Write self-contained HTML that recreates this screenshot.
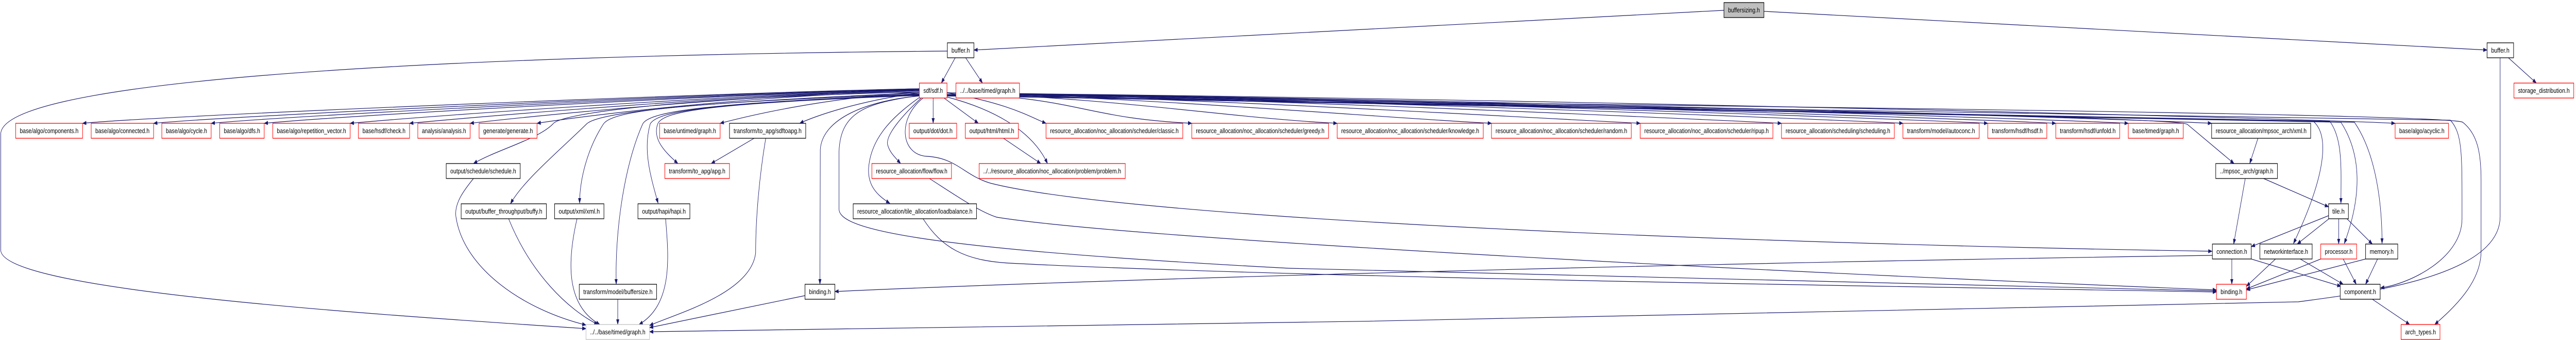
<!DOCTYPE html>
<html><head><meta charset="utf-8"><meta name="viewport" content="width=6893"><style>
html,body{margin:0;padding:0;background:#fff;width:100%;height:100%;overflow:hidden;}
svg{display:block;width:100vw;height:100vh;}
text{font-family:"Liberation Sans",sans-serif;font-size:13px;fill:#000;}
.e{fill:none;stroke:#191970;stroke-width:1.2;marker-end:url(#a);}
.b{fill:#fff;stroke:#000;stroke-width:1.3;}
.r{fill:#fff;stroke:#ff0000;stroke-width:1.3;}
.g{fill:#fff;stroke:#bfbfbf;stroke-width:1.3;}
</style></head><body>
<svg viewBox="0 0 6893 659" preserveAspectRatio="none" xmlns="http://www.w3.org/2000/svg">
<defs><marker id="a" markerUnits="userSpaceOnUse" markerWidth="11" markerHeight="8" refX="10" refY="4" orient="auto"><path d="M0,0 L11,4 L0,8 z" fill="#191970"/></marker></defs>

<path class="e" d="M4613,20 L2606,97"/>
<path class="e" d="M4720,22 L6655,97"/>
<path class="e" d="M2556,112 L2519,161"/>
<path class="e" d="M2584,112 L2629,161"/>
<path class="e" d="M2535,99 C 1500,105 2,140 2,260 L2,485 C 5,560 900,605 1568,637"/>
<path class="e" d="M6712,112 L6787,161"/>
<path class="e" d="M6690,112 L6690,420 C 6690,540 6300,570 6150,585 C 5500,605 3000,630 1738,643"/>

<path class="e" d="M2460,172 C 2000,178 471,222 221,239"/>
<path class="e" d="M2460,172 C 2000,179 661,222 411,239"/>
<path class="e" d="M2460,173 C 2000,180 815,222 565,239"/>
<path class="e" d="M2460,173 C 2000,181 957,222 707,239"/>
<path class="e" d="M2460,174 C 2000,182 1187,222 937,239"/>
<path class="e" d="M2460,174 C 2000,183 1346,222 1096,239"/>
<path class="e" d="M2460,175 C 2000,184 1458,222 1258,239"/>
<path class="e" d="M2460,176 C 2000,186 1587,222 1437,239"/>
<path class="e" d="M2460,178 C 2200,190 2000,225 1927,239"/>
<path class="e" d="M2460,180 C 2300,195 2180,225 2140,239"/>
<path class="e" d="M2534,180 C 2700,200 2760,228 2799,239"/>
<path class="e" d="M2534,180 C 2900,190 2889,228 3189,239"/>
<path class="e" d="M2534,180 C 3000,190 3278,228 3578,239"/>
<path class="e" d="M2534,180 C 3100,190 3691,228 3991,239"/>
<path class="e" d="M2534,180 C 3200,190 4089,228 4389,239"/>
<path class="e" d="M2534,180 C 3300,190 4467,228 4767,239"/>
<path class="e" d="M2534,180 C 3400,190 4792,228 5092,239"/>
<path class="e" d="M2534,180 C 3500,190 5019,228 5319,239"/>
<path class="e" d="M2534,180 C 3600,190 5201,228 5501,239"/>
<path class="e" d="M2534,180 C 3700,190 5395,228 5695,239"/>
<path class="e" d="M2534,180 C 3800,190 5618,228 5918,239"/>
<path class="e" d="M2534,180 C 4000,190 6109,228 6409,239"/>
<path class="e" d="M2497,190 L2497,239"/>
<path class="e" d="M2526,190 L2618,239"/>
<path class="e" d="M2460,178 C 1800,190 1500,220 1480,240 C 1440,270 1330,290 1267,317"/>
<path class="e" d="M2460,180 C 1800,200 1600,220 1570,240 C 1500,290 1400,350 1366,395"/>
<path class="e" d="M2460,182 C 1800,200 1640,215 1615,240 C 1570,290 1551,350 1551,394"/>
<path class="e" d="M2460,183 C 1900,200 1740,215 1720,240 C 1670,320 1645,450 1649,551"/>
<path class="e" d="M2460,184 C 1900,200 1760,215 1740,240 C 1720,290 1740,340 1761,394"/>
<path class="e" d="M2460,185 C 1900,200 1775,215 1760,240 C 1745,270 1780,295 1814,317"/>
<path class="e" d="M2460,186 C 2320,195 2200,230 2195,290 L2194,551"/>
<path class="e" d="M2462,188 C 2400,220 2335,260 2325,320 C 2318,360 2350,380 2381,394"/>
<path class="e" d="M2465,190 C 2420,220 2370,260 2375,280 C 2380,295 2395,305 2410,317"/>
<path class="e" d="M2534,188 C 2650,210 2760,250 2803,317"/>
<path class="e" d="M2460,185 C 2320,200 2245,215 2245,300 L2245,405 C 2245,440 2400,480 3450,520 C 4500,545 5500,560 5931,564"/>
<path class="e" d="M2470,190 C 2400,230 2410,300 2480,303 C 2560,306 2580,340 2650,355 C 3000,420 4500,470 5919,487"/>
<path class="e" d="M2534,183 C 4000,200 5830,225 5853,241 L5978,317"/>
<path class="e" d="M2534,184 C 4500,205 6150,225 6190,235 C 6230,260 6230,330 6137,472"/>
<path class="e" d="M2534,184 C 4500,205 6200,225 6234,235 C 6270,270 6264,330 6264,394"/>
<path class="e" d="M2534,185 C 4500,205 6240,225 6264,237 C 6320,300 6320,380 6273,472"/>
<path class="e" d="M2534,185 C 4500,205 6270,225 6300,237 C 6360,300 6374,400 6374,472"/>
<path class="e" d="M2534,186 C 4500,205 6520,220 6557,233 C 6590,260 6588,300 6588,424 C 6588,500 6450,550 6370,558"/>
<path class="e" d="M2534,186 C 4500,205 6560,220 6590,237 C 6630,260 6639,297 6639,350 L6639,487 C 6639,550 6560,600 6515,629"/>
<path class="e" d="M1267,346 C 1240,370 1215,395 1220,420 C 1240,520 1400,600 1568,630"/>
<path class="e" d="M1361,424 C 1420,530 1520,600 1600,629"/>
<path class="e" d="M1544,424 C 1520,500 1510,590 1605,629"/>
<path class="e" d="M1781,424 C 1790,500 1800,590 1710,629"/>
<path class="e" d="M1653,580 L1653,629"/>
<path class="e" d="M2018,268 L1903,317"/>
<path class="e" d="M2049,268 C 2030,350 2022,430 2022,490 C 2010,570 1800,610 1738,631"/>
<path class="e" d="M2154,573 L1738,635"/>
<path class="e" d="M2685,268 L2785,317"/>
<path class="e" d="M2470,424 C 2520,480 2580,505 2700,510 C 3500,540 5500,560 5931,566"/>
<path class="e" d="M2487,346 C 2560,380 2620,410 2667,421 C 3000,460 4500,520 5931,562"/>
<path class="e" d="M5920,495 C 4500,510 3000,540 2234,565"/>
<path class="e" d="M6042,268 L6020,317"/>
<path class="e" d="M6008,346 L5977,473"/>
<path class="e" d="M6057,346 L6231,401"/>
<path class="e" d="M6231,418 L6024,478"/>
<path class="e" d="M6232,424 L6147,473"/>
<path class="e" d="M6258,424 L6258,473"/>
<path class="e" d="M6280,424 L6348,473"/>
<path class="e" d="M5972,502 L5972,551"/>
<path class="e" d="M6024,502 L6264,555"/>
<path class="e" d="M6089,502 L6011,555"/>
<path class="e" d="M6155,502 L6270,551"/>
<path class="e" d="M6210,502 L6011,560"/>
<path class="e" d="M6270,502 L6305,551"/>
<path class="e" d="M6330,502 L6011,562"/>
<path class="e" d="M6362,502 L6330,551"/>
<path class="e" d="M6348,580 L6448,629"/>

<rect x="4613" y="5" width="107" height="29" fill="#bfbfbf" stroke="#000" stroke-width="1.3"/><text x="4666.5" y="24" text-anchor="middle" textLength="85" lengthAdjust="spacingAndGlyphs">buffersizing.h</text>
<rect class="b" x="2535" y="83" width="71" height="29"/><text x="2570.5" y="102" text-anchor="middle" textLength="49" lengthAdjust="spacingAndGlyphs">buffer.h</text>
<rect class="b" x="6655" y="83" width="71" height="29"/><text x="6690.5" y="102" text-anchor="middle" textLength="49" lengthAdjust="spacingAndGlyphs">buffer.h</text>
<rect class="r" x="2460" y="161" width="74" height="29"/><text x="2497" y="180" text-anchor="middle" textLength="52" lengthAdjust="spacingAndGlyphs">sdf/sdf.h</text>
<rect class="r" x="2558" y="161" width="170" height="29"/><text x="2643" y="180" text-anchor="middle" textLength="148" lengthAdjust="spacingAndGlyphs">../../base/timed/graph.h</text>
<rect class="r" x="6727" y="161" width="160" height="29"/><text x="6807" y="180" text-anchor="middle" textLength="138" lengthAdjust="spacingAndGlyphs">storage_distribution.h</text>

<rect class="r" x="42" y="239" width="179" height="29"/><text x="131.5" y="258" text-anchor="middle" textLength="157" lengthAdjust="spacingAndGlyphs">base/algo/components.h</text>
<rect class="r" x="244" y="239" width="167" height="29"/><text x="327.5" y="258" text-anchor="middle" textLength="145" lengthAdjust="spacingAndGlyphs">base/algo/connected.h</text>
<rect class="r" x="433" y="239" width="132" height="29"/><text x="499" y="258" text-anchor="middle" textLength="110" lengthAdjust="spacingAndGlyphs">base/algo/cycle.h</text>
<rect class="r" x="588" y="239" width="119" height="29"/><text x="647.5" y="258" text-anchor="middle" textLength="97" lengthAdjust="spacingAndGlyphs">base/algo/dfs.h</text>
<rect class="r" x="730" y="239" width="207" height="29"/><text x="833.5" y="258" text-anchor="middle" textLength="185" lengthAdjust="spacingAndGlyphs">base/algo/repetition_vector.h</text>
<rect class="r" x="959" y="239" width="137" height="29"/><text x="1027.5" y="258" text-anchor="middle" textLength="115" lengthAdjust="spacingAndGlyphs">base/hsdf/check.h</text>
<rect class="r" x="1118" y="239" width="140" height="29"/><text x="1188" y="258" text-anchor="middle" textLength="118" lengthAdjust="spacingAndGlyphs">analysis/analysis.h</text>
<rect class="r" x="1282" y="239" width="155" height="29"/><text x="1359.5" y="258" text-anchor="middle" textLength="133" lengthAdjust="spacingAndGlyphs">generate/generate.h</text>
<rect class="r" x="1765" y="239" width="162" height="29"/><text x="1846" y="258" text-anchor="middle" textLength="140" lengthAdjust="spacingAndGlyphs">base/untimed/graph.h</text>
<rect class="b" x="1952" y="239" width="204" height="29"/><text x="2054" y="258" text-anchor="middle" textLength="182" lengthAdjust="spacingAndGlyphs">transform/to_apg/sdftoapg.h</text>
<rect class="r" x="2433" y="239" width="127" height="29"/><text x="2496.5" y="258" text-anchor="middle" textLength="105" lengthAdjust="spacingAndGlyphs">output/dot/dot.h</text>
<rect class="r" x="2583" y="239" width="142" height="29"/><text x="2654" y="258" text-anchor="middle" textLength="120" lengthAdjust="spacingAndGlyphs">output/html/html.h</text>
<rect class="r" x="2799" y="239" width="366" height="29"/><text x="2982" y="258" text-anchor="middle" textLength="344" lengthAdjust="spacingAndGlyphs">resource_allocation/noc_allocation/scheduler/classic.h</text>
<rect class="r" x="3189" y="239" width="366" height="29"/><text x="3372" y="258" text-anchor="middle" textLength="344" lengthAdjust="spacingAndGlyphs">resource_allocation/noc_allocation/scheduler/greedy.h</text>
<rect class="r" x="3578" y="239" width="391" height="29"/><text x="3773.5" y="258" text-anchor="middle" textLength="369" lengthAdjust="spacingAndGlyphs">resource_allocation/noc_allocation/scheduler/knowledge.h</text>
<rect class="r" x="3991" y="239" width="374" height="29"/><text x="4178" y="258" text-anchor="middle" textLength="352" lengthAdjust="spacingAndGlyphs">resource_allocation/noc_allocation/scheduler/random.h</text>
<rect class="r" x="4389" y="239" width="355" height="29"/><text x="4566.5" y="258" text-anchor="middle" textLength="333" lengthAdjust="spacingAndGlyphs">resource_allocation/noc_allocation/scheduler/ripup.h</text>
<rect class="r" x="4767" y="239" width="302" height="29"/><text x="4918" y="258" text-anchor="middle" textLength="280" lengthAdjust="spacingAndGlyphs">resource_allocation/scheduling/scheduling.h</text>
<rect class="r" x="5092" y="239" width="204" height="29"/><text x="5194" y="258" text-anchor="middle" textLength="182" lengthAdjust="spacingAndGlyphs">transform/model/autoconc.h</text>
<rect class="r" x="5319" y="239" width="158" height="29"/><text x="5398" y="258" text-anchor="middle" textLength="136" lengthAdjust="spacingAndGlyphs">transform/hsdf/hsdf.h</text>
<rect class="r" x="5501" y="239" width="171" height="29"/><text x="5586.5" y="258" text-anchor="middle" textLength="149" lengthAdjust="spacingAndGlyphs">transform/hsdf/unfold.h</text>
<rect class="r" x="5695" y="239" width="147" height="29"/><text x="5768.5" y="258" text-anchor="middle" textLength="125" lengthAdjust="spacingAndGlyphs">base/timed/graph.h</text>
<rect class="b" x="5918" y="239" width="265" height="29"/><text x="6050.5" y="258" text-anchor="middle" textLength="243" lengthAdjust="spacingAndGlyphs">resource_allocation/mpsoc_arch/xml.h</text>
<rect class="r" x="6409" y="239" width="143" height="29"/><text x="6480.5" y="258" text-anchor="middle" textLength="121" lengthAdjust="spacingAndGlyphs">base/algo/acyclic.h</text>

<rect class="b" x="1194" y="317" width="198" height="29"/><text x="1293" y="336" text-anchor="middle" textLength="176" lengthAdjust="spacingAndGlyphs">output/schedule/schedule.h</text>
<rect class="r" x="1779" y="317" width="173" height="29"/><text x="1865.5" y="336" text-anchor="middle" textLength="151" lengthAdjust="spacingAndGlyphs">transform/to_apg/apg.h</text>
<rect class="r" x="2333" y="317" width="213" height="29"/><text x="2439.5" y="336" text-anchor="middle" textLength="191" lengthAdjust="spacingAndGlyphs">resource_allocation/flow/flow.h</text>
<rect class="r" x="2620" y="317" width="391" height="29"/><text x="2815.5" y="336" text-anchor="middle" textLength="369" lengthAdjust="spacingAndGlyphs">../../resource_allocation/noc_allocation/problem/problem.h</text>
<rect class="b" x="5929" y="317" width="165" height="29"/><text x="6011.5" y="336" text-anchor="middle" textLength="143" lengthAdjust="spacingAndGlyphs">../mpsoc_arch/graph.h</text>

<rect class="b" x="1234" y="395" width="228" height="29"/><text x="1348" y="414" text-anchor="middle" textLength="206" lengthAdjust="spacingAndGlyphs">output/buffer_throughput/buffy.h</text>
<rect class="b" x="1484" y="395" width="132" height="29"/><text x="1550" y="414" text-anchor="middle" textLength="110" lengthAdjust="spacingAndGlyphs">output/xml/xml.h</text>
<rect class="b" x="1707" y="395" width="139" height="29"/><text x="1776.5" y="414" text-anchor="middle" textLength="117" lengthAdjust="spacingAndGlyphs">output/hapi/hapi.h</text>
<rect class="b" x="2283" y="395" width="330" height="29"/><text x="2448" y="414" text-anchor="middle" textLength="308" lengthAdjust="spacingAndGlyphs">resource_allocation/tile_allocation/loadbalance.h</text>
<rect class="b" x="6231" y="395" width="53" height="29"/><text x="6257.5" y="414" text-anchor="middle" textLength="33" lengthAdjust="spacingAndGlyphs">tile.h</text>

<rect class="b" x="5920" y="473" width="104" height="29"/><text x="5972" y="492" text-anchor="middle" textLength="82" lengthAdjust="spacingAndGlyphs">connection.h</text>
<rect class="b" x="6047" y="473" width="140" height="29"/><text x="6117" y="492" text-anchor="middle" textLength="118" lengthAdjust="spacingAndGlyphs">networkinterface.h</text>
<rect class="r" x="6210" y="473" width="96" height="29"/><text x="6258" y="492" text-anchor="middle" textLength="74" lengthAdjust="spacingAndGlyphs">processor.h</text>
<rect class="b" x="6330" y="473" width="86" height="29"/><text x="6373" y="492" text-anchor="middle" textLength="64" lengthAdjust="spacingAndGlyphs">memory.h</text>

<rect class="b" x="1550" y="551" width="207" height="29"/><text x="1653.5" y="570" text-anchor="middle" textLength="185" lengthAdjust="spacingAndGlyphs">transform/model/buffersize.h</text>
<rect class="b" x="2154" y="551" width="80" height="29"/><text x="2194" y="570" text-anchor="middle" textLength="58" lengthAdjust="spacingAndGlyphs">binding.h</text>
<rect class="r" x="5931" y="551" width="80" height="29"/><text x="5971" y="570" text-anchor="middle" textLength="58" lengthAdjust="spacingAndGlyphs">binding.h</text>
<rect class="b" x="6262" y="551" width="107" height="29"/><text x="6315.5" y="570" text-anchor="middle" textLength="85" lengthAdjust="spacingAndGlyphs">component.h</text>

<rect class="g" x="1568" y="629" width="170" height="29"/><text x="1653" y="648" text-anchor="middle" textLength="148" lengthAdjust="spacingAndGlyphs">../../base/timed/graph.h</text>
<rect class="r" x="6425" y="629" width="104" height="29"/><text x="6477" y="648" text-anchor="middle" textLength="82" lengthAdjust="spacingAndGlyphs">arch_types.h</text>
</svg>
</body></html>
